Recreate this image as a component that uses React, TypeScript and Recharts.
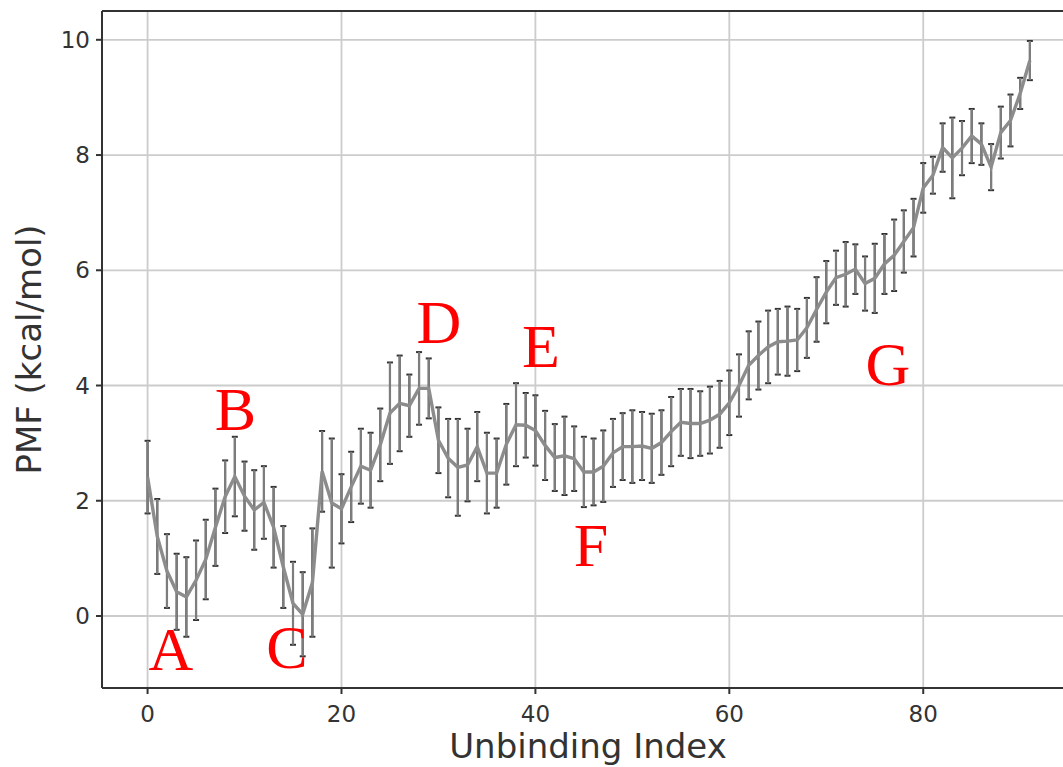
import React from "react";
import {
  LineChart,
  Line,
  XAxis,
  YAxis,
  CartesianGrid,
  ErrorBar,
  ReferenceLine,
  ReferenceDot,
} from "recharts";

// PMF along the unbinding path (kcal/mol)
const pmf = [
  2.41, 1.38, 0.78, 0.42, 0.33, 0.62, 0.98, 1.54, 2.07, 2.42,
  2.08, 1.84, 1.97, 1.54, 0.85, 0.22, 0.03, 0.58, 2.51, 1.96,
  1.86, 2.24, 2.6, 2.53, 2.97, 3.52, 3.69, 3.65, 3.95, 3.95,
  3.05, 2.74, 2.58, 2.62, 2.94, 2.48, 2.48, 2.98, 3.32, 3.31,
  3.22, 2.96, 2.75, 2.78, 2.73, 2.5, 2.5, 2.6, 2.83, 2.94,
  2.94, 2.95, 2.91, 3.01, 3.2, 3.36, 3.34, 3.34, 3.4, 3.5,
  3.7, 4.0, 4.35, 4.52, 4.67, 4.76, 4.77, 4.79, 5.0, 5.32,
  5.62, 5.87, 5.93, 6.02, 5.77, 5.86, 6.11, 6.26, 6.5, 6.74,
  7.43, 7.65, 8.13, 7.95, 8.12, 8.33, 8.19, 7.79, 8.39, 8.6,
  9.07, 9.64,
];

const pmfErr = [
  0.63, 0.65, 0.64, 0.66, 0.69, 0.69, 0.69, 0.67, 0.63, 0.69,
  0.6, 0.69, 0.63, 0.7, 0.71, 0.72, 0.73, 0.94, 0.7, 1.12,
  0.6, 0.61, 0.65, 0.65, 0.63, 0.88, 0.83, 0.54, 0.63, 0.52,
  0.57, 0.68, 0.84, 0.63, 0.6, 0.7, 0.6, 0.7, 0.72, 0.56,
  0.61, 0.6, 0.58, 0.68, 0.56, 0.61, 0.58, 0.62, 0.59, 0.58,
  0.63, 0.59, 0.6, 0.56, 0.6, 0.58, 0.6, 0.56, 0.58, 0.58,
  0.56, 0.54, 0.59, 0.59, 0.63, 0.57, 0.6, 0.54, 0.52, 0.56,
  0.54, 0.47, 0.56, 0.43, 0.47, 0.6, 0.52, 0.62, 0.54, 0.5,
  0.43, 0.32, 0.42, 0.7, 0.47, 0.47, 0.36, 0.4, 0.45, 0.45,
  0.27, 0.34,
];

const xTicks = [0, 20, 40, 60, 80];
const yTicks = [0, 2, 4, 6, 8, 10];

// state labels, anchored at (index, PMF) of their baseline centre
const stateNames = ["A", "B", "C", "D", "E", "F", "G"];
const stateX = [2.41, 9.07, 14.38, 30.05, 40.57, 45.74, 76.36];
const stateY = [-0.94, 3.23, -0.9, 4.74, 4.32, 0.87, 4.01];

const data = pmf.map((v, i) => ({ idx: i, pmf: v, err: pmfErr[i] }));

const tickStyle = { fontFamily: "DejaVu Sans", fontSize: 23, fill: "#333" };

export default function App() {
  return (
    <div
      style={{
        position: "absolute",
        left: 0,
        top: 0,
        width: 1063,
        height: 767,
        overflow: "hidden",
        background: "#fff",
      }}
    >
      <LineChart
        width={1074}
        height={767}
        data={data}
        margin={{ top: 11, right: 0, bottom: 0, left: 0 }}
      >
        <CartesianGrid stroke="#cccccc" strokeWidth={1.8} />
        <XAxis
          dataKey="idx"
          type="number"
          domain={[-4.7, 95.55]}
          ticks={xTicks}
          allowDataOverflow
          height={79}
          tickSize={6}
          tickMargin={12}
          tick={tickStyle}
          stroke="#333"
          strokeWidth={2}
          label={{
            value: "Unbinding Index",
            position: "insideBottom",
            offset: 9,
            style: { fontFamily: "DejaVu Sans", fontSize: 34, fill: "#333" },
          }}
        />
        <YAxis
          type="number"
          domain={[-1.25, 10.5]}
          ticks={yTicks}
          allowDataOverflow
          width={102}
          tickSize={6}
          tickMargin={6}
          tick={tickStyle}
          stroke="#333"
          strokeWidth={2}
          label={{
            value: "PMF (kcal/mol)",
            angle: -90,
            position: "insideLeft",
            offset: 29,
            textAnchor: "middle",
            style: { fontFamily: "DejaVu Sans", fontSize: 34, fill: "#333" },
          }}
        />
        <ReferenceLine y={10.5} stroke="#333" strokeWidth={2} />
        <Line
          dataKey="pmf"
          type="linear"
          stroke="#8c8c8c"
          strokeWidth={3.4}
          dot={false}
          isAnimationActive={false}
        >
          <ErrorBar dataKey="err" width={3} stroke="#333" strokeWidth={2} isAnimationActive={false} />
          <ErrorBar dataKey="err" width={0} stroke="#7d7d7d" strokeWidth={2.2} isAnimationActive={false} />
        </Line>
        {stateNames.map((name, i) => (
          <ReferenceDot
            key={name}
            x={stateX[i]}
            y={stateY[i]}
            r={0}
            shape={(p: any) => (
              <text
                x={p.cx}
                y={p.cy}
                textAnchor="middle"
                fontFamily="Liberation Serif"
                fontSize={62}
                fill="#ff0000"
              >
                {name}
              </text>
            )}
          />
        ))}
      </LineChart>
    </div>
  );
}
